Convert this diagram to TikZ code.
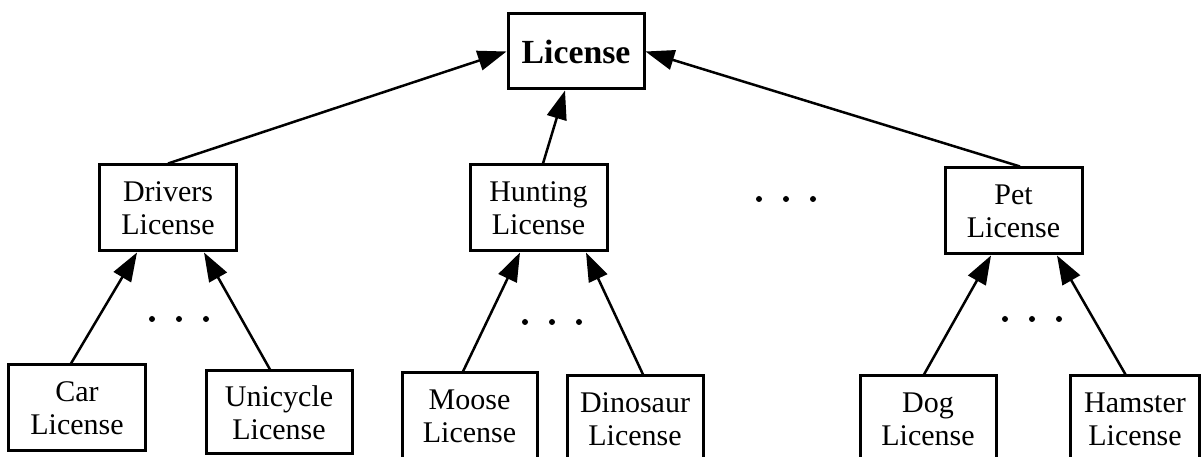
\documentclass[tikz,border=0pt]{standalone}
\usepackage{fontspec}
\setmainfont{Liberation Serif}
\usetikzlibrary{positioning,arrows.meta,calc}

\begin{document}
\begin{tikzpicture}[x=0.4pt, y=-0.4pt, font=\fontsize{12}{13.2}\selectfont,
    lbox/.style={draw, line width=1.2pt, align=center, inner sep=0pt,
      minimum width=54.8pt, minimum height=34.4pt},
    isa/.style={-{Triangle[length=11.5pt, width=8pt]}, line width=1pt}]
  \useasboundingbox (0,0) rectangle (1201,457);
  % root
  \node[lbox, minimum width=54.4pt, minimum height=30pt,
    font=\fontsize{13.5}{15}\selectfont\bfseries] (lic) at (576,51.5) {License};
  % second level
  \node[lbox] (drv) at (168,208) {Drivers\\License};
  \node[lbox] (hun) at (538.5,208) {Hunting\\License};
  \node[lbox] (pet) at (1013.5,211) {Pet\\License};
  % leaves
  \node[lbox] (car) at (77,408) {Car\\License};
  \node[lbox, minimum width=58.4pt, minimum height=33.2pt] (uni) at (279,412.5) {Unicycle\\License};
  \node[lbox, minimum width=54pt] (moo) at (469.5,416) {Moose\\License};
  \node[lbox, minimum width=54.4pt] (din) at (635,419) {Dinosaur\\License};
  \node[lbox, minimum width=54.4pt] (dog) at (928,419) {Dog\\License};
  \node[lbox, minimum width=51.6pt] (ham) at (1135,419) {Hamster\\License};
  % inheritance arrows
  \draw[isa] (drv.north) -- (lic.west);
  \draw[isa] ($(hun.north)+(4.5,0)$) -- ($(lic.south)+(-11,0)$);
  \draw[isa] ($(pet.north)+(6.5,0)$) -- (lic.east);
  \draw[isa] ($(car.north)+(-6,0)$) -- ($(drv.south)+(-31,0)$);
  \draw[isa] ($(uni.north)+(-9,0)$) -- ($(drv.south)+(36,0)$);
  \draw[isa] ($(moo.north)+(-6.5,0)$) -- ($(hun.south)+(-18.5,0)$);
  \draw[isa] ($(din.north)+(8,0)$) -- ($(hun.south)+(47.5,0)$);
  \draw[isa] ($(dog.north)+(-4,0)$) -- ($(pet.south)+(-22.5,0)$);
  \draw[isa] ($(ham.north)+(-9.5,0)$) -- ($(pet.south)+(43.5,0)$);
  % ellipses
  \foreach \cx/\cy in {179/319, 552/322, 786/199, 1032/319}
    \foreach \d in {-27,0,27}
      \fill (\cx+\d,\cy) circle (1.2pt);
\end{tikzpicture}
\end{document}
